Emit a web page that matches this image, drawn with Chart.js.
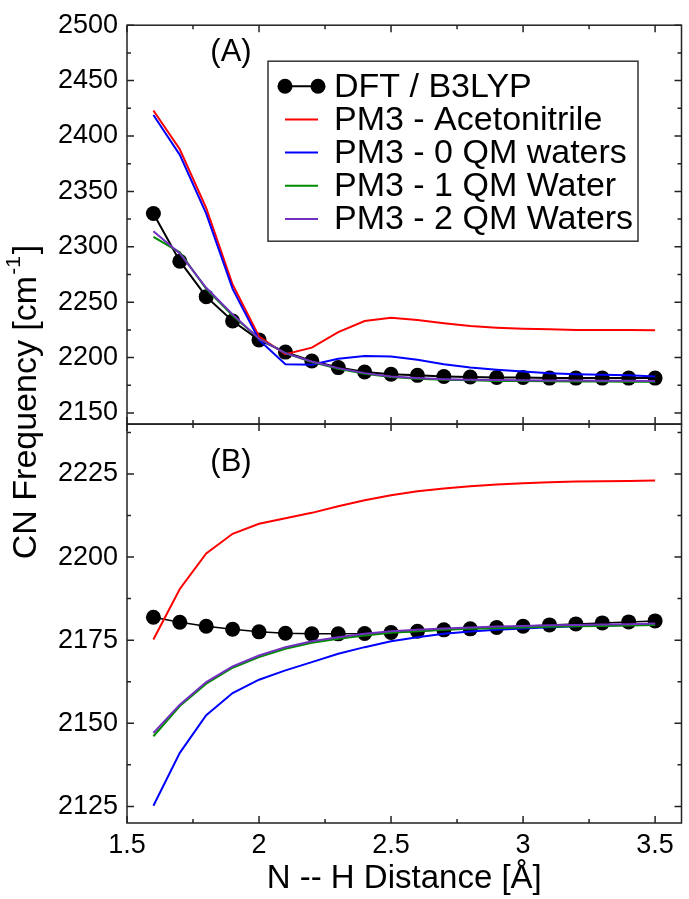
<!DOCTYPE html>
<html>
<head>
<meta charset="utf-8">
<script src="https://cdn.jsdelivr.net/npm/chart.js@4.4.1/dist/chart.umd.min.js"></script>
<style>
  body { margin: 0; background: #fff; }
  #wrap { width: 689px; height: 899px; position: relative; }
</style>
</head>
<body>
<div id="wrap"><canvas id="cn-chart"></canvas></div>
<script>
// N--H distance (Å)
const distance = [1.6, 1.7, 1.8, 1.9, 2.0, 2.1, 2.2, 2.3, 2.4, 2.5, 2.6, 2.7, 2.8, 2.9, 3.0, 3.1, 3.2, 3.3, 3.4, 3.5]

const seriesNames = ['DFT / B3LYP', 'PM3 - Acetonitrile', 'PM3 - 0 QM waters', 'PM3 - 1 QM Water', 'PM3 - 2 QM Waters']

// panel (A)
const dftA = [2330, 2287, 2255, 2233, 2216, 2205, 2197, 2191, 2187, 2185, 2184, 2183, 2182.5, 2182, 2182, 2181.5, 2181.5, 2181.5, 2181.5, 2181.5]
const acetoA = [2423, 2388, 2335, 2266, 2219, 2203, 2209, 2223, 2233, 2236, 2234, 2231, 2228.5, 2227, 2226, 2225.5, 2225, 2225, 2225, 2224.7]
const qm0A = [2419, 2383, 2330, 2262, 2216, 2194, 2193.5, 2199, 2201.5, 2201, 2198, 2194, 2191, 2189, 2187.5, 2186, 2185, 2184.5, 2184, 2183]
const qm1A = [2309, 2295, 2262, 2238, 2217, 2204, 2196, 2190, 2185.5, 2182.5, 2181, 2180, 2179.5, 2179, 2178.8, 2178.6, 2178.5, 2178.4, 2178.3, 2178.2]
const qm2A = [2314, 2294, 2263, 2239, 2217, 2204, 2196.5, 2190.5, 2186, 2183, 2181.5, 2180.5, 2180, 2179.7, 2179.5, 2179.4, 2179.3, 2179.2, 2179.1, 2179]

// panel (B)
const dftB = [2181.9, 2180.4, 2179.2, 2178.3, 2177.5, 2177.1, 2176.9, 2176.9, 2177.0, 2177.3, 2177.7, 2178.1, 2178.4, 2178.8, 2179.2, 2179.6, 2179.9, 2180.2, 2180.5, 2180.8]
const acetoB = [2175.2, 2190.4, 2201.1, 2207, 2210, 2211.7, 2213.3, 2215.3, 2217.1, 2218.6, 2219.8, 2220.6, 2221.3, 2221.8, 2222.2, 2222.5, 2222.7, 2222.8, 2222.9, 2223]
const qm0B = [2125.2, 2141.1, 2152.4, 2159.1, 2163.1, 2165.9, 2168.4, 2170.9, 2172.9, 2174.7, 2175.9, 2176.9, 2177.6, 2178.1, 2178.5, 2178.9, 2179.2, 2179.4, 2179.6, 2179.8]
const qm1B = [2146.1, 2155.2, 2161.9, 2166.7, 2169.9, 2172.4, 2174.2, 2175.4, 2176.4, 2177.2, 2177.7, 2178.1, 2178.4, 2178.6, 2178.8, 2179.0, 2179.2, 2179.3, 2179.4, 2179.6]
const qm2B = [2147.1, 2155.6, 2162.4, 2167.1, 2170.4, 2172.9, 2174.7, 2175.9, 2176.9, 2177.7, 2178.1, 2178.5, 2178.8, 2179.1, 2179.3, 2179.5, 2179.6, 2179.7, 2179.8, 2180.0]

const seriesColors = ['#000000', '#ff0000', '#0000ff', '#008b00', '#7230c0']

Chart.defaults.font.family = '"Liberation Sans", Arial, Helvetica, sans-serif'
Chart.defaults.color = '#000'

function toPoints(values) {
  return values.map((v, i) => ({ x: distance[i], y: v }))
}

function makeSet(values, idx, axis, dftLine) {
  let isDft = idx === 0
  return {
    label: seriesNames[idx],
    data: toPoints(values),
    yAxisID: axis,
    borderColor: seriesColors[idx],
    backgroundColor: seriesColors[idx],
    borderWidth: isDft ? dftLine : 2,
    pointRadius: isDft ? 7.5 : 0,
    pointBorderWidth: 0,
    tension: 0,
    order: 5 - idx   // DFT drawn underneath the PM3 lines
  }
}

let panelSets = [dftA, acetoA, qm0A, qm1A, qm2A].map((v, i) => makeSet(v, i, 'yTop', 2))
let lowerSets = [dftB, acetoB, qm0B, qm1B, qm2B].map((v, i) => makeSet(v, i, 'yBot', 1.5))

// frame, inward ticks, legend box and labels
const decorPlugin = {
  id: 'decor',
  afterDraw(chart) {
    const { ctx, chartArea, scales } = chart
    const xs = scales.x
    const left = chartArea.left, right = chartArea.right
    ctx.save()
    ctx.strokeStyle = '#222'
    ctx.lineWidth = 1.5
    ;[scales.yTop, scales.yBot].forEach(ys => {
      ctx.strokeRect(left, ys.top, right - left, ys.bottom - ys.top)
      ctx.beginPath()
      ys.ticks.forEach(t => {
        let py = ys.getPixelForValue(t.value)
        let len = t.label ? 7 : 4
        ctx.moveTo(left, py); ctx.lineTo(left + len, py)
        ctx.moveTo(right, py); ctx.lineTo(right - len, py)
      })
      xs.ticks.forEach(t => {
        let px = xs.getPixelForValue(t.value)
        let len = t.label ? 7 : 4
        ctx.moveTo(px, ys.top); ctx.lineTo(px, ys.top + len)
        ctx.moveTo(px, ys.bottom); ctx.lineTo(px, ys.bottom - len)
      })
      ctx.stroke()
    })

    // y axis title with superscript
    ctx.save()
    ctx.translate(27, 402)
    ctx.rotate(-Math.PI / 2)
    ctx.fillStyle = '#000'
    ctx.textBaseline = 'middle'
    ctx.textAlign = 'left'
    let big = '34px "Liberation Sans", Arial, sans-serif'
    let small = '21px "Liberation Sans", Arial, sans-serif'
    ctx.font = big
    let w1 = ctx.measureText('CN Frequency [cm').width
    let w3 = ctx.measureText(']').width
    ctx.font = small
    let w2 = ctx.measureText('-1').width + 3
    let x0 = -(w1 + w2 + w3) / 2
    ctx.font = big
    ctx.fillText('CN Frequency [cm', x0, 0)
    ctx.font = small
    ctx.fillText('-1', x0 + w1 + 1, -13)
    ctx.font = big
    ctx.fillText(']', x0 + w1 + w2, 0)
    ctx.restore()

    // panel labels
    ctx.fillStyle = '#000'
    ctx.font = '31px "Liberation Sans", Arial, sans-serif'
    ctx.textAlign = 'center'
    ctx.textBaseline = 'middle'
    ctx.fillText('(A)', left + 104, scales.yTop.top + 27)
    ctx.fillText('(B)', left + 104, scales.yBot.top + 38)

    // legend
    let bx = left + 141, by = scales.yTop.top + 36, bw = 370, bh = 180
    ctx.fillStyle = '#fff'
    ctx.fillRect(bx, by, bw, bh)
    ctx.strokeStyle = '#333'
    ctx.lineWidth = 1.5
    ctx.strokeRect(bx, by, bw, bh)
    ctx.font = '34px "Liberation Sans", Arial, sans-serif'
    ctx.textAlign = 'left'
    panelSets.forEach((ds, i) => {
      let ry = by + 25 + i * 33.2
      ctx.strokeStyle = ds.borderColor
      ctx.lineWidth = ds.borderWidth
      ctx.beginPath()
      ctx.moveTo(bx + 17, ry); ctx.lineTo(bx + 50, ry)
      ctx.stroke()
      if (ds.pointRadius > 0) {
        ctx.fillStyle = ds.backgroundColor
        ;[bx + 17, bx + 50].forEach(cx => {
          ctx.beginPath(); ctx.arc(cx, ry, 7.5, 0, Math.PI * 2); ctx.fill()
        })
      }
      ctx.fillStyle = '#000'
      ctx.fillText(ds.label, bx + 66, ry + 1)
    })
    ctx.restore()
  }
}

function yAxis(min, max, step, major) {
  return {
    type: 'linear',
    position: 'left',
    stack: 'panels',
    stackWeight: 1,
    min: min,
    max: max,
    grid: { display: false, drawTicks: false },
    border: { display: false },
    ticks: {
      stepSize: step,
      includeBounds: false,
      autoSkip: false,
      padding: 9,
      font: { size: 27 },
      callback: v => (Math.abs(v % major) < 1e-6 ? String(v) : '')
    },
    afterFit: s => { s.width = 127 }
  }
}

let ctx = document.getElementById('cn-chart').getContext('2d')

let cnChart = new Chart(ctx, {
  type: 'line',
  data: { datasets: panelSets.concat(lowerSets) },
  options: {
    responsive: true,
    maintainAspectRatio: false,
    animation: false,
    layout: { padding: { top: 22, right: -1, bottom: 0, left: 0 } },
    plugins: { legend: { display: false }, tooltip: { enabled: false } },
    scales: {
      x: {
        type: 'linear',
        min: 1.5,
        max: 3.6,
        grid: { display: false, drawTicks: false },
        border: { display: false },
        ticks: {
          stepSize: 0.25,
          includeBounds: false,
          autoSkip: false,
          maxRotation: 0,
          padding: 6,
          font: { size: 27 },
          callback: v => (Math.abs((v * 2) % 1) < 1e-6 ? String(v) : '')
        },
        title: { display: true, text: 'N -- H Distance [Å]', font: { size: 33 }, padding: { top: 0, bottom: 0 } },
        afterFit: s => { s.height = 76 }
      },
      yBot: yAxis(2120, 2240, 12.5, 25),
      yTop: yAxis(2140, 2500, 25, 50)
    }
  },
  plugins: [decorPlugin]
})
</script>
</body>
</html>
